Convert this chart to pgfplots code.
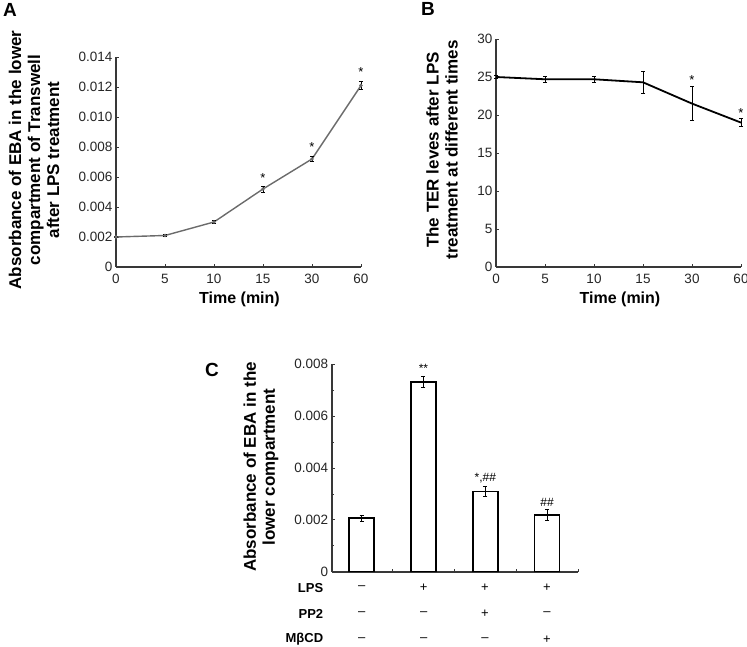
\documentclass[border=0pt]{standalone}
\usepackage{fontspec}
\setmainfont{Liberation Sans}
\usepackage{pgfplots}
\pgfplotsset{compat=1.18}
\definecolor{axgray}{gray}{0.22}
\definecolor{lngray}{gray}{0.42}
\pgfplotsset{
 myaxis/.style={
  scale only axis,
  axis x line*=bottom, axis y line*=left,
  axis line style={axgray, line width=1.8pt},
  tick style={axgray, line width=0.8pt},
  major tick length=3pt, minor tick length=2.5pt,
  tick align=inside,
  ticklabel style={font=\fontsize{13.5}{16}\selectfont, text=black!85},
  xticklabel style={yshift=-4pt},
  /pgf/number format/assume math mode=true,
  scaled y ticks=false,
  clip=false,
 },
 myerr/.style={error bars/.cd, y dir=both, y explicit,
  error bar style={line width=0.9pt, black},
  error mark options={rotate=90, mark size=2pt, black, line width=0.9pt}},
}
\newcommand{\labfont}{\fontsize{17}{19}\selectfont\bfseries}
\newcommand{\rowfont}{\fontsize{13}{15}\selectfont\bfseries}
\newcommand{\sgnfont}{\fontsize{13}{15}\selectfont}
\begin{document}
\begin{tikzpicture}[x=1pt,y=1pt]
\useasboundingbox (0,0) rectangle (747,647);
% Panel A
\begin{axis}[myaxis, at={(116pt,380pt)}, anchor=south west,
  width=245pt, height=210pt, xmin=0, xmax=5, ymin=0, ymax=0.014,
  xtick={0,1,2,3,4,5}, xticklabels={0,5,10,15,30,60},
  ytick={0,0.002,0.004,0.006,0.008,0.010,0.012,0.014},
  yticklabels={0,0.002,0.004,0.006,0.008,0.010,0.012,0.014}]
\addplot[lngray, line width=1.4pt, mark=*, mark size=1pt, myerr] coordinates {
 (0,0.0020) +- (0,0.00005)
 (1,0.0021) +- (0,0.00006)
 (2,0.0030) +- (0,0.00012)
 (3,0.0052) +- (0,0.00020)
 (4,0.0072) +- (0,0.00015)
 (5,0.0121) +- (0,0.00028)};
\node[font=\sgnfont] at (axis cs:3,0.0059) {*};
\node[font=\sgnfont] at (axis cs:4,0.0080) {*};
\node[font=\sgnfont] at (axis cs:5,0.0130) {*};
\end{axis}
% Panel B
\begin{axis}[myaxis, at={(496pt,380pt)}, anchor=south west,
  width=245pt, height=228pt, xmin=0, xmax=5, ymin=0, ymax=30,
  xtick={0,1,2,3,4,5}, xticklabels={0,5,10,15,30,60},
  ytick={0,5,10,15,20,25,30}]
\addplot[black, line width=1.8pt, mark=none, myerr] coordinates {
 (0,25.0) +- (0,0.2)
 (1,24.7) +- (0,0.4)
 (2,24.7) +- (0,0.4)
 (3,24.3) +- (0,1.4)
 (4,21.5) +- (0,2.2)
 (5,19.0) +- (0,0.5)};
\node[font=\sgnfont] at (axis cs:4,24.6) {*};
\node[font=\sgnfont] at (axis cs:5,20.3) {*};
\end{axis}
% Panel C
\begin{axis}[myaxis, at={(331.7pt,75.3pt)}, anchor=south west,
  width=246.3pt, height=207.4pt, xmin=-0.484, xmax=3.5, ymin=0, ymax=0.008,
  xtick={0.5,1.5,2.5,3.5}, xticklabels={},
  ytick={0,0.002,0.004,0.006,0.008},
  yticklabels={0,0.002,0.004,0.006,0.008},
  minor ytick={0.001,0.003,0.005,0.007}]
\addplot[ybar, bar width=25pt, bar shift=0pt, fill=white, draw=black, line width=1.6pt, myerr] coordinates {
 (0,0.00206) +- (0,0.00012)
 (1,0.00732) +- (0,0.00022)
 (2,0.00309) +- (0,0.00020)
 (3,0.00219) +- (0,0.00020)};
\node[font=\fontsize{12}{14}\selectfont] at (axis cs:1,0.00785) {**};
\node[font=\fontsize{12}{14}\selectfont] at (axis cs:2,0.00362) {*,\#\#};
\node[font=\fontsize{12}{14}\selectfont] at (axis cs:3,0.00266) {\#\#};
\end{axis}
% labels
\node[font=\fontsize{19}{21}\selectfont\bfseries] at (10,637) {A};
\node[font=\fontsize{19}{21}\selectfont\bfseries] at (428,638) {B};
\node[font=\fontsize{19}{21}\selectfont\bfseries] at (212,277) {C};
\node[font=\labfont, rotate=90, align=center] at (34,487) {Absorbance of EBA in the lower\\compartment of Transwell\\after LPS treatment};
\node[font=\labfont, rotate=90, align=center] at (442,497) {The TER leves after LPS\\treatment at different times};
\node[font=\labfont, rotate=90, align=center] at (261,180) {Absorbance of EBA in the\\lower compartment};
\node[font=\fontsize{16}{18}\selectfont\bfseries] at (239.5,348) {Time (min)};
\node[font=\fontsize{16}{18}\selectfont\bfseries] at (620,348) {Time (min)};
% rows
\node[font=\rowfont, anchor=east] at (326.7,59) {LPS};
\node[font=\rowfont, anchor=east] at (326.7,33) {PP2};
\node[font=\rowfont, anchor=east] at (326.7,7.7) {MβCD};
\foreach \x/\a/\b/\c in {361.7/\textendash/\textendash/\textendash, 423.7/+/\textendash/\textendash, 485/+/+/\textendash, 547/+/\textendash/+}{
  \node[font=\sgnfont] at (\x,59) {\a};
  \node[font=\sgnfont] at (\x,33) {\b};
  \node[font=\sgnfont] at (\x,7.7) {\c};
}
\end{tikzpicture}
\end{document}
